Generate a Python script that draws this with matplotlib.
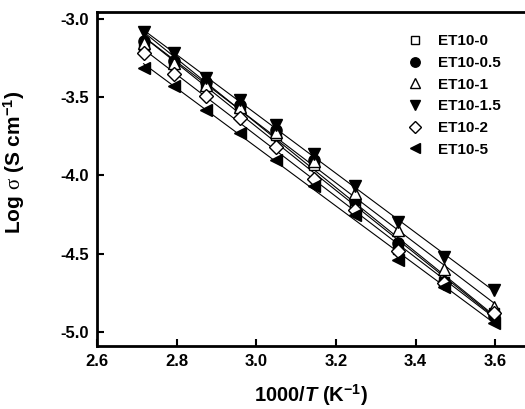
import numpy as np
import matplotlib.pyplot as plt

plt.rcParams['font.family'] = ['Liberation Sans', 'DejaVu Sans']
plt.rcParams['mathtext.fontset'] = 'custom'
plt.rcParams['mathtext.rm'] = 'Liberation Sans:bold'
plt.rcParams['mathtext.it'] = 'Liberation Sans:italic:bold'
plt.rcParams['mathtext.bf'] = 'Liberation Sans:bold'
plt.rcParams['mathtext.sf'] = 'Liberation Serif'

# 1000/T for 95 ... 5 degC
inv_T = [2.717, 2.793, 2.874, 2.959, 3.049, 3.145, 3.247, 3.356, 3.472, 3.597]

et10_0 = [-3.17, -3.28, -3.42, -3.57, -3.74, -3.93, -4.20, -4.47, -4.68, -4.88]
et10_05 = [-3.14, -3.27, -3.40, -3.55, -3.71, -3.90, -4.16, -4.43, -4.68, -4.90]
et10_1 = [-3.15, -3.28, -3.42, -3.56, -3.72, -3.91, -4.11, -4.35, -4.60, -4.84]
et10_15 = [-3.08, -3.22, -3.38, -3.52, -3.68, -3.86, -4.07, -4.30, -4.52, -4.73]
et10_2 = [-3.22, -3.35, -3.49, -3.63, -3.82, -4.02, -4.22, -4.48, -4.69, -4.88]
et10_5 = [-3.31, -3.43, -3.58, -3.73, -3.90, -4.07, -4.25, -4.54, -4.71, -4.94]

labels = ['ET10-0', 'ET10-0.5', 'ET10-1', 'ET10-1.5', 'ET10-2', 'ET10-5']
series = [et10_0, et10_05, et10_1, et10_15, et10_2, et10_5]
markers = ['s', 'o', '^', 'v', 'D', '<']
filled = [False, True, False, True, False, True]
sizes = [7, 8, 8, 8, 7, 8]

fig = plt.figure(figsize=(5.25, 4.09), dpi=100)
ax = fig.add_axes([97 / 525, 63 / 409, 428 / 525, 334 / 409])

x = np.array(inv_T)
for ys, lab, m, f, s in zip(series, labels, markers, filled, sizes):
    # linear fit line through each set
    k, b = np.polyfit(x, ys, 1)
    ax.plot(x, k * x + b, color='black', lw=0.8, zorder=2)
    ax.plot(x, ys, linestyle='none', marker=m, ms=s,
            mfc='black' if f else 'white', mec='black', mew=1.0,
            label=lab, zorder=3)

ax.set_xlim(2.6, 3.675)
ax.set_ylim(-5.09, -2.955)
ax.set_xticks([2.6, 2.8, 3.0, 3.2, 3.4, 3.6])
ax.set_yticks([-5.0, -4.5, -4.0, -3.5, -3.0])
ax.set_xticklabels(['2.6', '2.8', '3.0', '3.2', '3.4', '3.6'], fontweight='bold', fontsize=12)
ax.set_yticklabels(['-5.0', '-4.5', '-4.0', '-3.5', '-3.0'], fontweight='bold', fontsize=12)
ax.tick_params(direction='in', length=5, width=1.5, pad=6)
for side in ['left', 'bottom', 'top']:
    ax.spines[side].set_linewidth(2)
ax.spines['right'].set_visible(False)

ax.set_xlabel(r'1000/$\mathit{T}$ (K$^{\mathbf{-1}}$)', fontsize=14.5, fontweight='bold', labelpad=9)
ax.set_ylabel(r'Log $\mathsf{\sigma}$ (S cm$^{\mathbf{-1}}$)', fontsize=15, fontweight='bold')
ax.yaxis.set_label_coords(-0.164, 0.551)

ax.legend(loc='upper left', bbox_to_anchor=(0.70, 0.965), frameon=False,
          prop={'weight': 'bold', 'size': 11}, handlelength=1.0, markerscale=0.85,
          handletextpad=1.0, labelspacing=0.5, borderpad=0.2)

fig.savefig('out.png', dpi=100)
